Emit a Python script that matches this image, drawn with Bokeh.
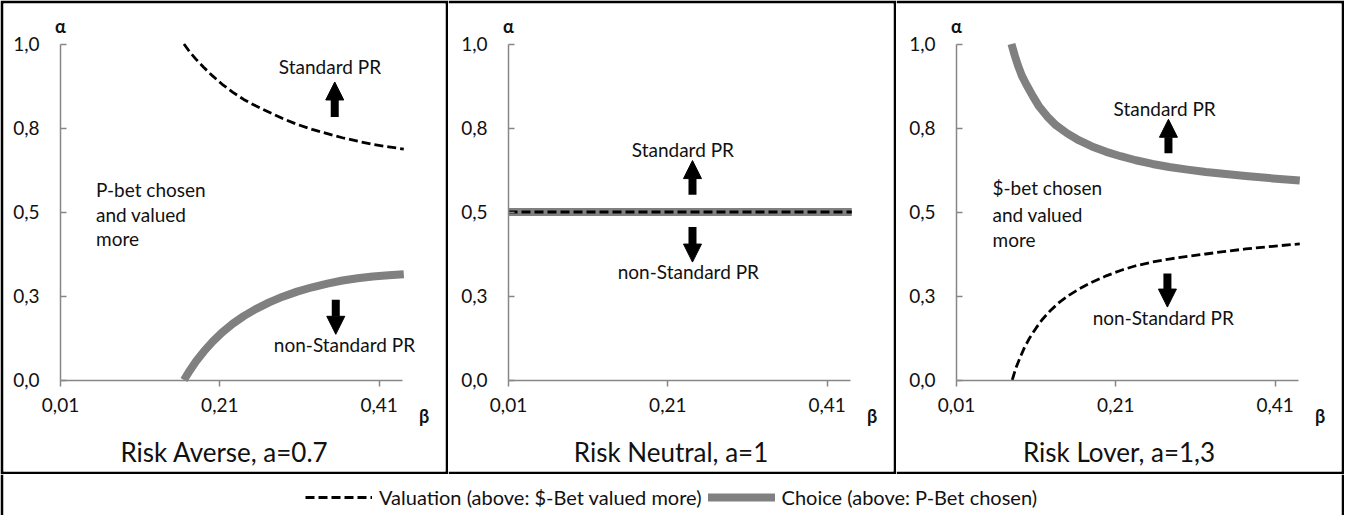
from bokeh.plotting import figure
from bokeh.models import (FixedTicker, LinearAxis, Range1d, Arrow, NormalHead,
                          Legend, LegendItem)
from bokeh.layouts import row, column
from bokeh.core.properties import value
from bokeh.embed import file_html
from bokeh.resources import INLINE

# ---------------- data ----------------
beta_ticks = [0.01, 0.21, 0.41]
beta_tick_labels = ["0,01", "0,21", "0,41"]
alpha_ticks = [0.0, 0.25, 0.5, 0.75, 1.0]
alpha_tick_labels = ["0,0", "0,3", "0,5", "0,8", "1,0"]

panel_titles = ["Risk Averse, a=0.7", "Risk Neutral, a=1", "Risk Lover, a=1,3"]

# Risk averse (a=0.7)
averse_val_beta = [0.165, 0.172, 0.180, 0.190, 0.201, 0.213, 0.226, 0.240, 0.255, 0.272,
                   0.289, 0.307, 0.326, 0.345, 0.364, 0.383, 0.402, 0.422, 0.441]
averse_val_alpha = [1.0, 0.977, 0.955, 0.930, 0.905, 0.880, 0.857, 0.835, 0.816, 0.797,
                    0.778, 0.761, 0.746, 0.733, 0.721, 0.711, 0.701, 0.694, 0.687]
averse_choice_beta = [0.165, 0.172, 0.180, 0.190, 0.201, 0.213, 0.226, 0.240, 0.255, 0.272,
                      0.289, 0.307, 0.326, 0.345, 0.364, 0.383, 0.402, 0.422, 0.441]
averse_choice_alpha = [0.0, 0.027, 0.055, 0.085, 0.114, 0.142, 0.167, 0.190, 0.211, 0.231,
                       0.248, 0.263, 0.276, 0.287, 0.296, 0.303, 0.308, 0.312, 0.315]

# Risk neutral (a=1)
neutral_beta = [0.01, 0.441]
neutral_val_alpha = [0.5, 0.5]
neutral_choice_alpha = [0.5, 0.5]

# Risk lover (a=1.3)
lover_choice_beta = [0.079, 0.083, 0.087, 0.092, 0.098, 0.106, 0.114, 0.124, 0.135, 0.149,
                     0.164, 0.180, 0.198, 0.216, 0.235, 0.256, 0.277, 0.300, 0.323, 0.348,
                     0.373, 0.407, 0.441]
lover_choice_alpha = [1.0, 0.967, 0.937, 0.906, 0.878, 0.844, 0.813, 0.784, 0.758, 0.734,
                      0.713, 0.695, 0.679, 0.666, 0.654, 0.643, 0.634, 0.626, 0.619, 0.613,
                      0.607, 0.600, 0.594]
lover_val_beta = [0.080, 0.084, 0.089, 0.095, 0.102, 0.110, 0.118, 0.128, 0.139, 0.151,
                  0.164, 0.180, 0.198, 0.216, 0.235, 0.256, 0.277, 0.300, 0.323, 0.348,
                  0.373, 0.407, 0.441]
lover_val_alpha = [0.0, 0.032, 0.062, 0.095, 0.126, 0.155, 0.181, 0.207, 0.231, 0.252,
                   0.271, 0.291, 0.310, 0.326, 0.340, 0.351, 0.360, 0.368, 0.375, 0.383,
                   0.390, 0.398, 0.405]

legend_labels = ["Valuation (above: $-Bet valued more)", "Choice (above: P-Bet chosen)"]
region_lines = [["P-bet chosen", "and valued", "more"], None, ["$-bet chosen", "and valued", "more"]]

# ---------------- layout / style ----------------
FONT = "Lato"
GRAY = "#808080"
AXIS_GRAY = "#868686"
PANEL_W = [448, 448, 448]
PANEL_H = 474
LEGEND_H = 41
BORDER = 3
AXIS_PAGE_X = [68, 516, 964]      # page x of the alpha axis in each panel
FRAME_PAGE_X = [8 + BORDER, 456, 904]
PX_PER_BETA = 796.5
PX_PER_ALPHA = 336.0
ALPHA1_FROM_TOP = 51.5 - 8 - BORDER
DASH_W = 2.8

# annotation placement (data coords) per panel
ann = [
    dict(std=(0.3483, 0.932), nonstd=(0.3665, 0.106),
         up=(0.3543, 0.783, 0.887), down=(0.3556, 0.239, 0.136),
         region=(0.0546, [0.568, 0.494, 0.420])),
    dict(std=(0.2289, 0.685), nonstd=(0.2358, 0.322),
         up=(0.241, 0.551, 0.653), down=(0.241, 0.455, 0.351),
         region=None),
    dict(std=(0.2713, 0.809), nonstd=(0.2696, 0.186),
         up=(0.2761, 0.675, 0.776), down=(0.2748, 0.317, 0.217),
         region=(0.0552, [0.574, 0.494, 0.418])),
]

curves = [
    (averse_val_beta, averse_val_alpha, averse_choice_beta, averse_choice_alpha),
    (neutral_beta, neutral_val_alpha, neutral_beta, neutral_choice_alpha),
    (lover_val_beta, lover_val_alpha, lover_choice_beta, lover_choice_alpha),
]


def make_panel(i):
    left_b = BORDER if i == 0 else 0
    fw = PANEL_W[i] - left_b - BORDER
    fh = PANEL_H - 2 * BORDER
    axis_off = AXIS_PAGE_X[i] - FRAME_PAGE_X[i]
    x0 = beta_ticks[0] - axis_off / PX_PER_BETA
    x1 = x0 + fw / PX_PER_BETA
    y1 = 1.0 + ALPHA1_FROM_TOP / PX_PER_ALPHA
    y0 = y1 - fh / PX_PER_ALPHA
    p = figure(width=PANEL_W[i], height=PANEL_H,
               x_range=Range1d(x0, x1), y_range=Range1d(y0, y1),
               x_axis_type=None, y_axis_type=None,
               output_backend="svg", toolbar_location=None, title=None,
               min_border_left=left_b, min_border_right=BORDER,
               min_border_top=BORDER, min_border_bottom=BORDER,
               border_fill_color="black", background_fill_color="white",
               outline_line_color=None)

    xa = LinearAxis(fixed_location=0.0, bounds=(0.01, 0.44),
                    ticker=FixedTicker(ticks=beta_ticks),
                    major_label_overrides=dict(zip(beta_ticks, beta_tick_labels)),
                    axis_line_color=AXIS_GRAY, axis_line_width=1.5,
                    major_tick_line_color=AXIS_GRAY, major_tick_line_width=1.5,
                    major_tick_out=6, major_tick_in=0, minor_tick_out=0, minor_tick_in=0,
                    major_label_standoff=12,
                    major_label_text_font=FONT, major_label_text_font_size="19px",
                    major_label_text_color="#111111")
    ya = LinearAxis(fixed_location=0.01, bounds=(0.0, 1.0),
                    ticker=FixedTicker(ticks=alpha_ticks),
                    major_label_overrides=dict(zip(alpha_ticks, alpha_tick_labels)),
                    axis_line_color=AXIS_GRAY, axis_line_width=1.5,
                    major_tick_line_color=AXIS_GRAY, major_tick_line_width=1.5,
                    major_tick_out=0, major_tick_in=6, minor_tick_out=0, minor_tick_in=0,
                    major_label_standoff=21,
                    major_label_text_font=FONT, major_label_text_font_size="19px",
                    major_label_text_color="#111111")
    p.add_layout(xa, "below")
    p.add_layout(ya, "left")

    vb, va, cb, ca = curves[i]
    p.line(cb, ca, line_color=GRAY, line_width=8, line_cap="butt", line_join="round")
    p.line(vb, va, line_color="black", line_width=DASH_W, line_dash="9 4", line_join="round")

    a = ann[i]
    tkw = dict(text_font=value(FONT), text_color="#111111", text_baseline="middle")
    p.text(x=[a["std"][0]], y=[a["std"][1]], text=["Standard PR"],
           text_align="center", text_font_size="19px", **tkw)
    p.text(x=[a["nonstd"][0]], y=[a["nonstd"][1]], text=["non-Standard PR"],
           text_align="center", text_font_size="19px", **tkw)
    if region_lines[i] is not None:
        rx, rys = a["region"]
        p.text(x=[rx] * len(rys), y=rys, text=region_lines[i],
               text_align="left", text_font_size="19px", **tkw)

    for key in ("up", "down"):
        ax, ys, ye = a[key]
        p.add_layout(Arrow(end=NormalHead(size=18, fill_color="black", line_color="black", line_width=1),
                           x_start=ax, y_start=ys, x_end=ax, y_end=ye,
                           line_color="black", line_width=8))

    # greek axis names and panel title
    p.text(x=[0.01], y=[1.053], text=["α"], text_align="center",
           text_font_size="18px", text_font_style="bold", **tkw)
    p.text(x=[0.4665], y=[-0.106], text=["β"], text_align="center",
           text_font_size="18px", text_font_style="bold", **tkw)
    p.text(x=[(x0 + x1) / 2], y=[-0.215], text=[panel_titles[i]], text_align="center",
           text_font_size="26px", **tkw)
    return p


panels = [make_panel(i) for i in range(3)]

# legend strip (sample renderers sit outside its visible range)
lg = figure(width=sum(PANEL_W), height=LEGEND_H,
            x_range=Range1d(2, 3), y_range=Range1d(2, 3),
            x_axis_type=None, y_axis_type=None,
            output_backend="svg", toolbar_location=None, title=None,
            min_border_left=BORDER, min_border_right=BORDER,
            min_border_top=0, min_border_bottom=0,
            border_fill_color="black", background_fill_color="white",
            outline_line_color=None)
r_val = lg.line(x=neutral_beta, y=neutral_val_alpha, line_color="black",
                line_width=DASH_W, line_dash="9 4")
r_cho = lg.line(x=neutral_beta, y=neutral_choice_alpha, line_color=GRAY,
                line_width=8, line_cap="round")
leg = Legend(items=[LegendItem(label=legend_labels[0], renderers=[r_val]),
                    LegendItem(label=legend_labels[1], renderers=[r_cho])],
             orientation="horizontal", location=(313 - 8 - BORDER, 6),
             glyph_width=67, glyph_height=20, label_height=20,
             label_standoff=7, spacing=6, padding=0, margin=0,
             border_line_color=None, background_fill_alpha=0,
             label_text_font=FONT, label_text_font_size="20px",
             label_text_color="#111111")
lg.add_layout(leg, "center")

layout = column(row(*panels, spacing=0), lg, spacing=0)

open("out.html", "w").write(file_html(layout, INLINE))
